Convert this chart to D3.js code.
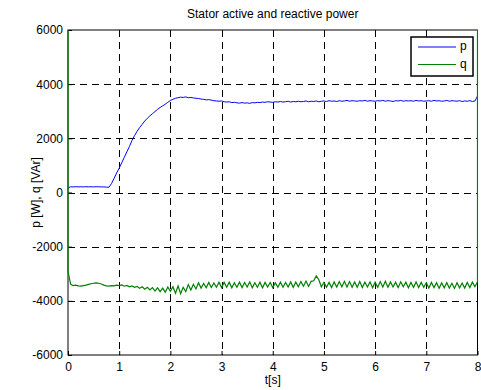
<!DOCTYPE html>
<html>
<head>
<meta charset="utf-8">
<script src="https://cdn.jsdelivr.net/npm/d3@7"></script>
<style>
  body { margin: 0; background: #fff; }
  text { font-family: "Liberation Sans", Arial, sans-serif; font-size: 12px; fill: #000; }
</style>
</head>
<body>
<script>
// samples every 0.05 s from t=0 to t=8 (one row per second)
var step = 0.05;

var pVals = [
  170,210,205,215,208,212,206,214,209,211,207,213,210,208,205,200,190,330,520,720,
  900,1100,1300,1500,1700,1920,2100,2260,2400,2520,2640,2740,2830,2910,2990,3070,3140,3200,3260,3330,
  3400,3440,3480,3500,3520,3510,3530,3500,3510,3490,3480,3470,3450,3440,3420,3430,3410,3390,3380,3370,
  3380,3350,3340,3350,3320,3330,3310,3300,3320,3300,3310,3290,3320,3310,3330,3320,3340,3330,3350,3340,
  3330,3350,3340,3360,3340,3350,3370,3340,3360,3350,3370,3350,3360,3380,3350,3370,3360,3380,3350,3370,
  3380,3360,3390,3370,3380,3360,3390,3370,3380,3400,3370,3390,3380,3370,3390,3380,3400,3370,3390,3380,
  3370,3390,3380,3400,3370,3390,3380,3360,3390,3380,3400,3370,3390,3380,3390,3370,3400,3380,3390,3370,
  3380,3390,3370,3400,3380,3390,3370,3380,3400,3370,3390,3380,3370,3390,3360,3380,3370,3390,3360,3380,
  3560
];

var qVals = [
  -2900,-3380,-3440,-3420,-3450,-3460,-3440,-3420,-3390,-3370,-3350,-3340,-3350,-3380,-3420,-3450,-3460,-3440,-3450,-3420,
  -3440,-3410,-3460,-3430,-3480,-3450,-3500,-3470,-3540,-3480,-3570,-3500,-3600,-3510,-3640,-3520,-3660,-3530,-3680,-3490,
  -3650,-3480,-3720,-3450,-3740,-3500,-3660,-3400,-3600,-3390,-3560,-3330,-3530,-3360,-3520,-3320,-3510,-3340,-3500,-3310,
  -3510,-3320,-3500,-3310,-3520,-3330,-3500,-3310,-3510,-3320,-3490,-3300,-3520,-3330,-3500,-3310,-3520,-3320,-3490,-3320,
  -3510,-3330,-3500,-3310,-3500,-3320,-3490,-3300,-3500,-3310,-3480,-3290,-3460,-3270,-3470,-3280,-3260,-3080,-3220,-3480,
  -3320,-3500,-3320,-3510,-3300,-3490,-3290,-3480,-3280,-3490,-3290,-3500,-3300,-3500,-3290,-3510,-3310,-3490,-3300,-3520,
  -3310,-3500,-3290,-3490,-3280,-3500,-3300,-3490,-3310,-3510,-3300,-3480,-3310,-3520,-3320,-3500,-3300,-3510,-3320,-3500,
  -3330,-3530,-3320,-3510,-3330,-3540,-3340,-3520,-3330,-3530,-3350,-3540,-3330,-3520,-3340,-3530,-3320,-3510,-3310,-3480,
  -3300
];

// switching transients at both ends of q (off the scale)
var qStartSpike = 7000;
var qEndSpike = 7000;

var xTicks = [0,1,2,3,4,5,6,7,8];
var yTicks = [-6000,-4000,-2000,0,2000,4000,6000];
var seriesNames = ["p","q"];
var seriesColors = ["#0000ff","#008000"];

var width = 481, height = 390;
var margin = {left: 68, right: 3.5, top: 30, bottom: 35};

var svg = d3.select("body").append("svg")
  .attr("width", width)
  .attr("height", height);

var x = d3.scaleLinear().domain([0,8]).range([margin.left, width - margin.right]);
var y = d3.scaleLinear().domain([-6000,6000]).range([height - margin.bottom, margin.top]);

// grid
var grid = svg.append("g").attr("stroke", "#000").attr("stroke-dasharray", "7,5").attr("stroke-width", 1);
grid.selectAll("line.v")
  .data(xTicks.slice(1, -1))
  .enter().append("line")
  .attr("x1", function(d){ return Math.round(x(d)) + 0.5; })
  .attr("x2", function(d){ return Math.round(x(d)) + 0.5; })
  .attr("y1", y(6000)).attr("y2", y(-6000));
grid.selectAll("line.h")
  .data(yTicks.slice(1, -1))
  .enter().append("line")
  .attr("y1", function(d){ return Math.round(y(d)) + 0.5; })
  .attr("y2", function(d){ return Math.round(y(d)) + 0.5; })
  .attr("x1", x(0)).attr("x2", x(8));

// axes
var fmt = function(d){ return String(d); };
var xAxis = d3.axisBottom(x).tickValues(xTicks).tickSize(-4).tickPadding(7).tickFormat(fmt);
var yAxis = d3.axisLeft(y).tickValues(yTicks).tickSize(-4).tickPadding(5).tickFormat(fmt);

var gx = svg.append("g").attr("transform", "translate(0," + y(-6000) + ")").call(xAxis);
var gy = svg.append("g").attr("transform", "translate(" + x(0) + ",0)").call(yAxis);
[gx, gy].forEach(function(g){
  g.select(".domain").remove();
  g.selectAll("text").style("font-family", "Liberation Sans, Arial, sans-serif").style("font-size", "12px").attr("fill", "#000");
  g.selectAll("line").attr("stroke", "#000");
});
gx.selectAll("text").attr("dy", "0.71em");

svg.append("rect")
  .attr("x", x(0)).attr("y", y(6000))
  .attr("width", x(8) - x(0)).attr("height", y(-6000) - y(6000))
  .attr("fill", "none").attr("stroke", "#000").attr("stroke-width", 1);

svg.append("clipPath").attr("id", "plot")
  .append("rect")
  .attr("x", x(0) - 1).attr("y", y(6000))
  .attr("width", x(8) - x(0) + 2).attr("height", y(-6000) - y(6000));

var pData = pVals.map(function(v, i){ return [i * step, v]; });
var qData = [[0, qStartSpike]]
  .concat(qVals.map(function(v, i){ return [i * step, v]; }))
  .concat([[8, qEndSpike]]);

var line = d3.line()
  .x(function(d){ return x(d[0]); })
  .y(function(d){ return y(d[1]); });

// series drawn over the frame, so the transients show on the box edges
var lines = svg.append("g").attr("clip-path", "url(#plot)");
lines.append("path").datum(pData)
  .attr("d", line).attr("fill", "none")
  .attr("stroke", seriesColors[0]).attr("stroke-width", 1);
lines.append("path").datum(qData)
  .attr("d", line).attr("fill", "none")
  .attr("stroke", seriesColors[1]).attr("stroke-width", 1.2);

// labels
svg.append("text")
  .attr("x", (x(0) + x(8)) / 2).attr("y", 15)
  .attr("text-anchor", "middle").attr("dominant-baseline", "middle")
  .text("Stator active and reactive power");
svg.append("text")
  .attr("x", (x(0) + x(8)) / 2).attr("y", 381)
  .attr("text-anchor", "middle").attr("dominant-baseline", "middle")
  .text("t[s]");
svg.append("text")
  .attr("transform", "translate(37," + y(0) + ") rotate(-90)")
  .attr("text-anchor", "middle").attr("dominant-baseline", "middle")
  .text("p [W], q [VAr]");

// legend
var legend = svg.append("g").attr("transform", "translate(411,37)");
legend.append("rect")
  .attr("width", 62).attr("height", 39)
  .attr("fill", "#fff").attr("stroke", "#000").attr("stroke-width", 1.5);
seriesNames.forEach(function(name, i){
  var ly = 10 + i * 17.5;
  legend.append("line")
    .attr("x1", 7).attr("x2", 45).attr("y1", ly).attr("y2", ly)
    .attr("stroke", seriesColors[i]).attr("stroke-width", 1);
  legend.append("text")
    .attr("x", 49).attr("y", ly)
    .attr("dominant-baseline", "middle")
    .text(name);
});
</script>
</body>
</html>
